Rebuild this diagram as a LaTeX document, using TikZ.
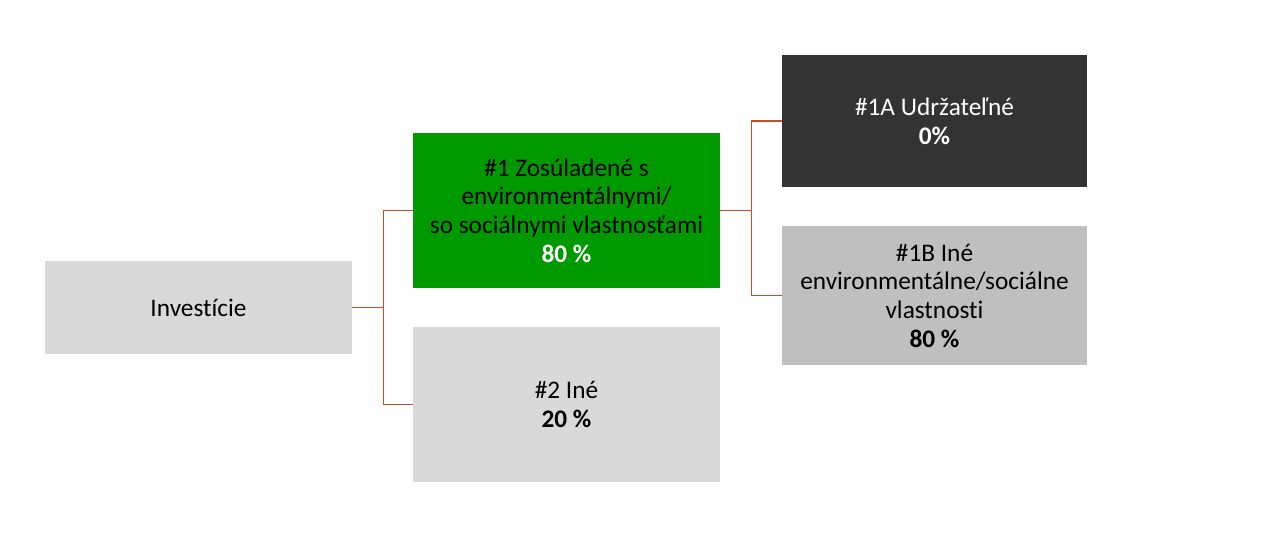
\documentclass[tikz,border=0pt]{standalone}
\usepackage{fontspec}
\setmainfont{Carlito}[Ligatures={NoCommon}]
\usepackage{xcolor}
\usepackage{tikz}
\usetikzlibrary{positioning}

\definecolor{boxgray}{HTML}{D9D9D9}
\definecolor{boxmid}{HTML}{BFBFBF}
\definecolor{boxdark}{HTML}{333333}
\definecolor{boxgreen}{HTML}{009900}
\definecolor{linkred}{HTML}{C0502A}

\begin{document}
\begin{tikzpicture}[
    box/.style={minimum width=6.14cm, align=center, inner sep=2pt, font=\fontsize{14.4}{16.3}\selectfont},
    link/.style={draw=linkred, line width=0.8pt},
]
\useasboundingbox (0,0) rectangle (25.38,-11.18);
\node[box, fill=boxgray, minimum height=1.86cm] (invest) at (3.97,-6.15) {Investície};
\node[box, fill=boxgreen, minimum height=3.10cm] (align) at (11.33,-4.21)
    {\#1 Zosúladené s\\environmentálnymi/\\so sociálnymi vlastnosťami\\\textcolor{white}{\textbf{80 \%}}};
\node[box, fill=boxgray, minimum height=3.10cm] (other) at (11.33,-8.09) {\#2 Iné\\\textbf{20 \%}};
\node[box, fill=boxdark, text=white, minimum width=6.10cm, minimum height=2.64cm] (sust) at (18.69,-2.42)
    {\#1A Udržateľné\\\textbf{0\%}};
\node[box, fill=boxmid, minimum width=6.10cm, minimum height=2.78cm] (envsoc) at (18.69,-5.91)
    {\#1B Iné\\environmentálne/sociálne\\vlastnosti\\\textbf{80 \%}};

\draw[link] (invest.east) -- ++(0.62,0) |- (align.west);
\draw[link] (invest.east) -- ++(0.62,0) |- (other.west);
\draw[link] (align.east) -- ++(0.62,0) |- (sust.west);
\draw[link] (align.east) -- ++(0.62,0) |- (envsoc.west);
\end{tikzpicture}
\end{document}
